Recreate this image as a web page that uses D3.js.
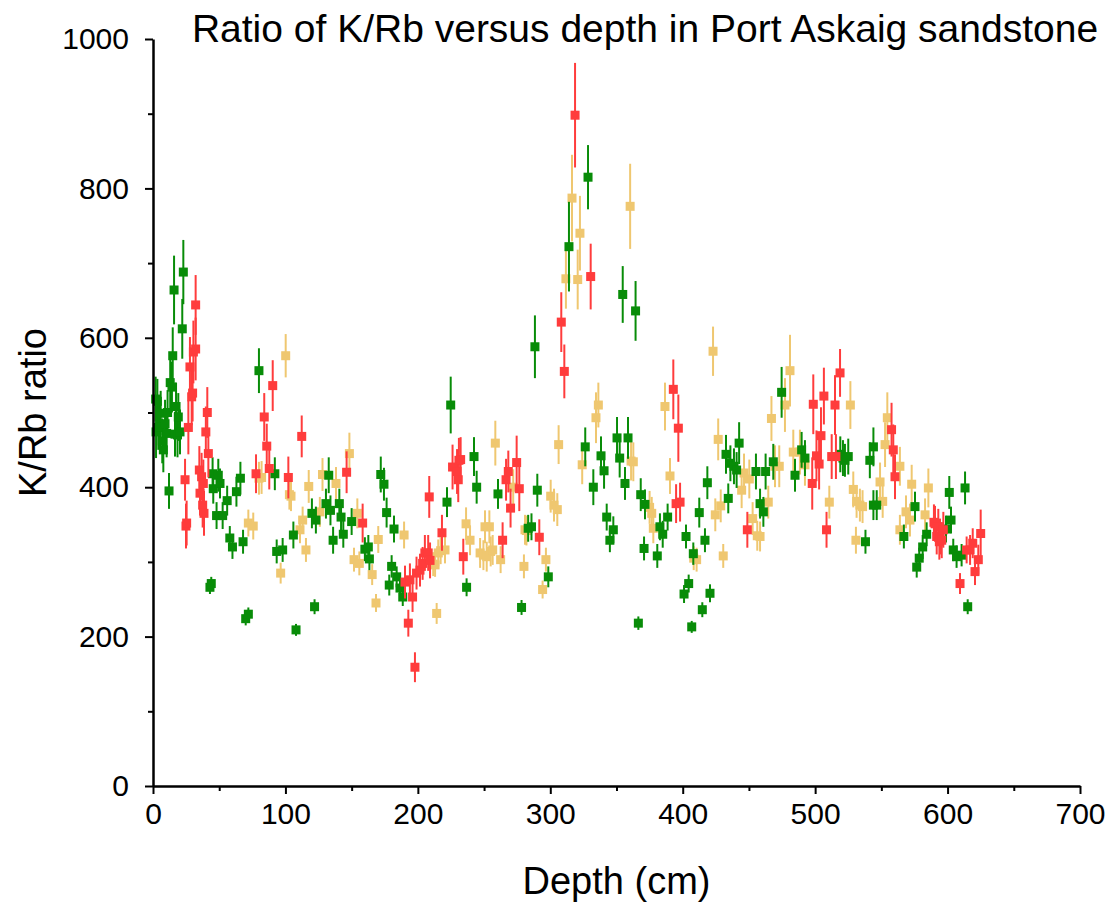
<!DOCTYPE html>
<html>
<head>
<meta charset="utf-8">
<script src="https://cdn.jsdelivr.net/npm/d3@7"></script>
<style>
  body { margin: 0; background: #fff; }
  text { font-family: "Liberation Sans", Arial, sans-serif; }
</style>
</head>
<body>
<div id="chart"></div>
<script>
// K/Rb ratio readings, each point is [depth (cm), ratio, error]
const greenPts = [
  [2,518,30],[2.3,474,35],[3.3,515,30],[4,480,30],[5.3,481,32],[5.8,499,30],[7,462,30],[7.8,450,30],
  [9.1,485,32],[10.3,472,32],[11,500,30],[12.1,395,24],[13,540,35],[14.3,534,34],[14.9,576,38],
  [15.9,664,46],[16.6,471,30],[17.4,508,32],[18.5,470,30],[19.1,494,32],[20.4,474,30],[22.1,612,40],
  [22.9,688,43],[43,266,9],[44,271,9],[45,418,22],[45.5,398,20],[48,362,18],[49.3,416,22],[50.6,405,20],
  [52.6,362,18],[56,382,20],[58,332,16],[60,320,16],[63,394,20],[66,412,22],[68,327,16],[70,224,9],
  [72,230,9],[80,556,30],[92,418,22],[93.4,314,16],[97.9,316,16],[106,336,18],[108,209,8],[120,365,20],
  [122,240,10],[123,356,18],[130.6,378,20],[132.7,416,24],[134,369,20],[136,329,18],[140.7,378,20],
  [142,360,18],[143.7,337,18],[150,354,18],[160,317,16],[162.6,320,16],[163.4,304,15],[172,417,24],
  [174.4,404,22],[176.4,366,20],[178.4,269,14],[180.2,294,15],[182,344,18],[184,280,14],[186.5,265,13],
  [188.6,253,12],[222,380,20],[224.8,510,38],[236.8,266,12],[242.4,441,26],[244.4,400,22],[260.5,391,20],
  [278.3,239,10],[283.3,345,18],[285.8,347,18],[288.4,588,42],[290.2,396,22],[298.5,280,14],[314.1,722,60],
  [326.4,454,26],[328.5,815,43],[332.5,400,24],[338.3,442,26],[340.6,422,24],[342.6,360,18],[345,329,16],
  [347.6,343,18],[350.4,466,28],[352.4,439,26],[354.7,658,38],[356.4,405,22],[358.7,466,28],[364.4,636,40],
  [366.5,218,9],[368.3,390,22],[370.8,318,16],[371.5,377,20],[380.8,308,16],[382.8,347,18],[384.9,337,18],
  [388.6,360,18],[401,257,12],[402.5,334,16],[404.5,271,12],[406.8,213,8],[408,311,15],[412.5,366,20],
  [414.8,236,10],[416.8,329,16],[418.6,406,22],[420.6,258,12],[432.7,444,26],[434.4,385,20],[436,432,24],
  [438.7,428,24],[440.7,423,24],[442.6,459,28],[455.3,421,24],[458.4,378,20],[460.9,367,20],[462.6,421,24],
  [468.4,434,24],[474.7,527,34],[484.8,416,22],[489.8,450,24],[492.3,439,24],[519,444,24],[521,439,24],
  [522.5,436,22],[525,441,24],[538,327,16],[541.3,436,24],[544,454,26],[544,376,20],[546.5,376,20],
  [567,334,16],[575.4,374,20],[576.7,293,14],[578.6,305,14],[581.2,320,16],[584.2,337,16],[598.8,344,18],
  [601.3,393,22],[602.6,356,18],[604.3,316,15],[606.8,307,15],[610.6,309,15],[613.2,399,22],[615.2,240,10]
];

const redPts = [
  [24.2,410,28],[24.9,348,30],[25.4,352,30],[26.7,480,36],[27.9,561,40],[29.2,521,38],[29.9,526,38],
  [30.5,581,42],[32.2,585,42],[32.2,644,40],[35,423,32],[35.5,392,30],[36.7,414,32],[37.5,376,30],
  [38,405,32],[38.5,365,30],[39.9,474,34],[41,500,34],[41.8,445,32],[77.8,418,26],[84,494,32],[85.9,455,30],
  [87.8,425,28],[90.4,536,34],[102.2,413,28],[112.3,468,28],[146.2,420,28],[158.3,352,26],[190.3,273,22],
  [192.8,218,18],[194,276,22],[196,253,20],[197.8,159,20],[199,285,22],[201.6,289,22],[203.6,298,22],
  [205.3,312,24],[207.8,312,24],[208.6,387,28],[209.2,302,24],[218.2,339,24],[226.2,427,30],[229.6,421,30],
  [230.5,410,30],[231,436,30],[232.3,437,30],[234.3,307,24],[264,329,24],[266.6,410,28],[268.3,421,28],
  [270,372,26],[274.6,433,36],[276.6,398,30],[291.7,333,24],[308.3,621,40],[310.6,555,36],[318.7,898,70],
  [330.5,682,44],[392.9,531,40],[395,378,26],[396.7,479,45],[398,380,26],[448.8,343,24],[497.8,405,35],
  [498.6,511,40],[501,442,34],[503,431,34],[504.4,469,38],[506.6,522,38],[508.6,343,24],[512.5,441,30],
  [515,510,40],[515.7,441,30],[518.8,553,32],[557.7,477,36],[559,450,34],[560.3,414,30],[589.7,353,24],
  [590.5,351,24],[591.8,334,24],[593,347,24],[593.8,327,24],[594.3,334,24],[595.6,329,24],[596.8,343,24],
  [609.4,271,14],[614.4,316,18],[617,316,20],[619,325,20],[620.7,287,18],[623.2,303,20],[625,338,32]
];

const tanPts = [
  [72,352,18],[75.7,348,18],[80,412,22],[82,413,22],[96.4,285,14],[100.2,576,29],[103,390,20],[104.2,388,20],
  [111,343,18],[113,356,18],[115.5,316,16],[117.6,401,22],[126,367,20],[128,417,22],[138.2,405,22],
  [148.3,445,28],[151.8,303,16],[154.3,365,20],[155.8,298,16],[165.5,283,14],[168.4,245,12],[170.1,330,18],
  [189.6,336,18],[211.6,297,16],[213,296,16],[214.2,231,14],[215.4,312,18],[217.2,315,18],[220.5,316,18],
  [236.4,351,22],[239.4,329,20],[247,312,20],[249.5,309,20],[250.7,347,22],[252,307,20],[254,347,22],
  [255,314,20],[256.5,316,20],[258.5,459,30],[262.5,303,18],[272,400,24],[280.1,294,16],[280.9,343,20],
  [282,342,20],[294.2,263,12],[296.7,303,16],[300.3,388,22],[302.8,376,22],[305.3,370,22],[306.3,457,26],
  [311.8,679,40],[316.4,787,58],[320.7,678,40],[322.4,740,50],[324.1,430,26],[334.5,493,34],[336.3,510,30],
  [360.3,776,57],[361,435,26],[362.7,434,26],[375,373,22],[376.6,365,22],[377.8,345,20],[386.6,508,32],
  [390.4,415,24],[408.3,305,16],[410.5,303,16],[422.9,582,33],[424.6,363,22],[426.8,464,28],[428.7,375,22],
  [430.6,308,16],[444.5,396,24],[446.3,419,26],[450.3,411,26],[452.8,358,22],[456.3,335,20],[458.4,334,20],
  [464.6,380,22],[467,492,30],[469.7,428,28],[472.9,428,28],[477.2,510,36],[481,556,48],[483.5,447,30],
  [488.5,447,30],[492.3,430,28],[510.7,380,22],[526.6,510,32],[528.8,397,24],[530.8,329,18],[531.3,381,22],
  [533.8,376,22],[535.8,374,22],[549,407,26],[551,381,22],[552.8,457,30],[554.5,493,34],[564,428,26],
  [564,343,20],[568.6,367,22],[571.6,356,22],[572.9,404,26],[583,363,22],[585.5,399,26]
];

const xTicks = [0,100,200,300,400,500,600,700];
const yTicks = [0,200,400,600,800,1000];

// chart size
const width = 1117, height = 904;
const margin = {top: 39, right: 37, bottom: 118, left: 153};

const svg = d3.select('#chart')
  .append('svg')
    .attr('width', width)
    .attr('height', height);

const x = d3.scaleLinear()
  .domain([0, 700])
  .range([margin.left, width - margin.right]);

const y = d3.scaleLinear()
  .domain([0, 1000])
  .range([height - margin.bottom, margin.top]);

// series, drawn back to front
const series = [
  {data: tanPts, color: "#efc770"},
  {data: greenPts, color: "#088c08"},
  {data: redPts, color: "#ff3c3c"}
];

series.forEach(function(s) {
  const g = svg.append("g");
  // error bars
  g.selectAll("line")
    .data(s.data)
    .enter()
    .append("line")
    .attr("x1", function(d) { return x(d[0]); })
    .attr("x2", function(d) { return x(d[0]); })
    .attr("y1", function(d) { return y(d[1] - d[2]); })
    .attr("y2", function(d) { return y(d[1] + d[2]); })
    .attr("stroke", s.color)
    .attr("stroke-width", 2);
  // square markers
  g.selectAll("rect")
    .data(s.data)
    .enter()
    .append("rect")
    .attr("x", function(d) { return x(d[0]) - 4.5; })
    .attr("y", function(d) { return y(d[1]) - 4.5; })
    .attr("width", 9)
    .attr("height", 9)
    .attr("fill", s.color);
});

// X axis
svg.append("g")
  .attr("transform", "translate(0," + y(0) + ")")
  .call(d3.axisBottom(x).tickValues(xTicks).tickSize(8).tickPadding(9).tickSizeOuter(0));
svg.append("g")
  .attr("transform", "translate(0," + y(0) + ")")
  .call(d3.axisBottom(x).tickValues(d3.range(50, 700, 100)).tickSize(5).tickFormat("").tickSizeOuter(0))
  .select(".domain").remove();

// Y axis
svg.append("g")
  .attr("transform", "translate(" + x(0) + ",0)")
  .call(d3.axisLeft(y).tickValues(yTicks).tickSize(8).tickPadding(16).tickSizeOuter(0).tickFormat(d3.format("d")));
svg.append("g")
  .attr("transform", "translate(" + x(0) + ",0)")
  .call(d3.axisLeft(y).tickValues(d3.range(100, 1000, 200)).tickSize(5).tickFormat("").tickSizeOuter(0))
  .select(".domain").remove();

svg.selectAll(".domain").attr("stroke", "#000").attr("stroke-width", 2.5);
svg.selectAll(".tick line").attr("stroke", "#000").attr("stroke-width", 2);
svg.selectAll(".tick text")
  .attr("font-size", 30)
  .attr("font-family", "'Liberation Sans', Arial, sans-serif")
  .attr("fill", "#000");

// Axis titles
svg.append("text")
  .attr("x", (x(0) + x(700)) / 2)
  .attr("y", 894)
  .attr("text-anchor", "middle")
  .attr("font-size", 38)
  .text("Depth (cm)");

svg.append("text")
  .attr("transform", "translate(46," + ((y(0) + y(1000)) / 2) + ") rotate(-90)")
  .attr("text-anchor", "middle")
  .attr("font-size", 38)
  .text("K/Rb ratio");

// Title
svg.append("text")
  .attr("x", 645)
  .attr("y", 42)
  .attr("text-anchor", "middle")
  .attr("font-size", 39)
  .text("Ratio of K/Rb versus depth in Port Askaig sandstone");
</script>
</body>
</html>
